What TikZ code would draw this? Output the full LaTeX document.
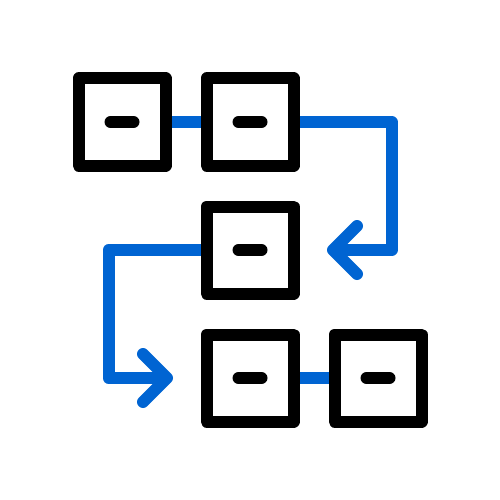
\documentclass[tikz,border=0pt]{standalone}
\definecolor{flowblue}{HTML}{0064D2}
\tikzset{
  box/.style={line width=12pt, minimum size=87pt, inner sep=0pt, outer sep=0pt},
  boxline/.style={draw=black, line width=12pt, line join=round},
  dashline/.style={black, line width=12pt, line cap=round},
  flow/.style={flowblue, line width=12pt, line join=round},
  arrowhead/.style={flowblue, line width=12pt, line join=round, line cap=round}
}
\begin{document}
\begin{tikzpicture}[x=1pt,y=-1pt]
\useasboundingbox (0,0) rectangle (500,500);
\coordinate (tipR) at (333,250);
\coordinate (tipL) at (167,378);
\node[box] (b1) at (122,122) {};
\node[box] (b2) at (250,122) {};
\node[box] (b3) at (250,250) {};
\node[box] (b4) at (250,378) {};
\node[box] (b5) at (378,378) {};
% connectors
\draw[flow] (b1.east) -- (b2.west);
\draw[flow] (b4.east) -- (b5.west);
\draw[flow] (b2.east) -- ++(98,0) |- (tipR);
\draw[arrowhead] ([shift={(24,-24)}]tipR) -- (tipR) -- ++(24,24);
\draw[flow] (b3.west) -- ++(-98,0) |- (tipL);
\draw[arrowhead] ([shift={(-24,-24)}]tipL) -- (tipL) -- ++(-24,24);
% boxes over connectors
\foreach \n in {b1,b2,b3,b4,b5}{
  \draw[boxline] (\n.north west) rectangle (\n.south east);
  \draw[dashline] ([xshift=-11.5pt]\n.center) -- ([xshift=11.5pt]\n.center);
}
\end{tikzpicture}
\end{document}
